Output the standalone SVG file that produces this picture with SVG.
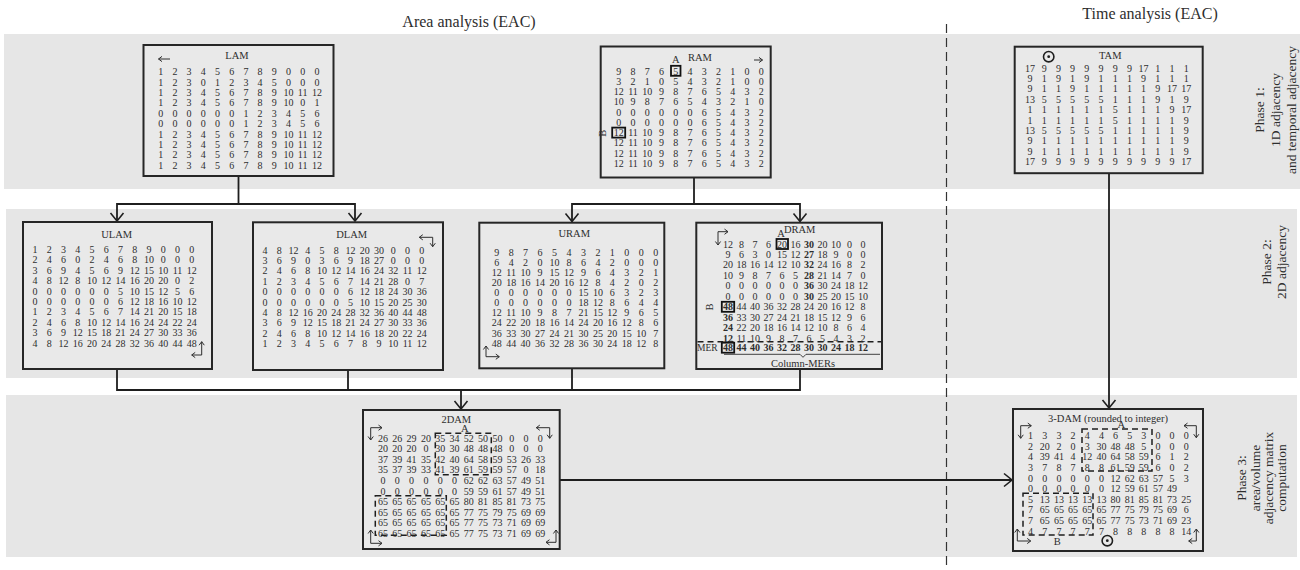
<svg xmlns="http://www.w3.org/2000/svg" width="1300" height="570" viewBox="0 0 1300 570">
<style>
.band{fill:#e6e6e6}
.box{fill:#e9e9e9;stroke:#262626;stroke-width:2}
text{font-family:"Liberation Serif","Times New Roman",serif;fill:#2e2e2e}
.m{font-size:10px;text-anchor:middle}
.ttl{font-size:10.5px;text-anchor:middle}
.b{font-weight:bold}
.con{fill:none;stroke:#1e1e1e;stroke-width:1.8}
.ca{fill:none;stroke:#2e2e2e;stroke-width:1}
.dash{fill:none;stroke:#1e1e1e;stroke-width:1.5;stroke-dasharray:6 4}
.hl{fill:none;stroke:#111;stroke-width:1.8}
.phase{font-size:13.5px;text-anchor:middle}
.hdr{font-size:16px;text-anchor:middle}
.sym{fill:none;stroke:#1e1e1e;stroke-width:1.6}
</style>
<defs>
<marker id="ah" viewBox="-10 -8 12 16" refX="0" refY="0" markerWidth="12" markerHeight="16" markerUnits="userSpaceOnUse" orient="auto-start-reverse">
<path d="M-8,-6.5 L0,0 L-8,6.5" fill="none" stroke="#1e1e1e" stroke-width="1.6"/>
</marker>
<marker id="sa" viewBox="-5 -4 6 8" refX="0" refY="0" markerWidth="6" markerHeight="8" markerUnits="userSpaceOnUse" orient="auto-start-reverse">
<path d="M-3.5,-2.6 L0,0 L-3.5,2.6" fill="none" stroke="#2e2e2e" stroke-width="1"/>
</marker>
</defs>

<!-- phase bands -->
<rect class="band" x="4" y="34" width="1296" height="155"/>
<rect class="band" x="6" y="209" width="1291" height="169"/>
<rect class="band" x="6" y="395" width="1291" height="162"/>

<!-- column headers and separator -->
<text class="hdr" x="469" y="27">Area analysis (EAC)</text>
<text class="hdr" x="1150" y="19">Time analysis (EAC)</text>
<line x1="946.5" y1="24" x2="946.5" y2="570" stroke="#333" stroke-width="1.2" stroke-dasharray="9 5"/>

<!-- phase labels -->
<g id="phase1" class="phase">
<text transform="translate(1263.5,110) rotate(-90)">Phase 1:</text>
<text transform="translate(1280,110) rotate(-90)">1D adjacency</text>
<text transform="translate(1295.5,110) rotate(-90)">and temporal adjacency</text>
</g>
<g id="phase2" class="phase">
<text transform="translate(1271,262) rotate(-90)">Phase 2:</text>
<text transform="translate(1286,262) rotate(-90)">2D adjacency</text>
</g>
<g id="phase3" class="phase">
<text transform="translate(1246,478) rotate(-90)">Phase 3:</text>
<text transform="translate(1259.5,478) rotate(-90)">area/volume</text>
<text transform="translate(1272.5,478) rotate(-90)">adjacency matrix</text>
<text transform="translate(1285.5,478) rotate(-90)">computation</text>
</g>

<!-- connectors -->
<g id="connectors">
<path class="con" d="M238.5,176 V204"/>
<path class="con" d="M117,221 V204 H355 V221" marker-start="url(#ah)" marker-end="url(#ah)"/>
<path class="con" d="M694,177.5 V204"/>
<path class="con" d="M572,221.5 V204 H800 V221.5" marker-start="url(#ah)" marker-end="url(#ah)"/>
<path class="con" d="M117,369 V390 H800 V369"/>
<path class="con" d="M348,370 V390"/>
<path class="con" d="M572,368.3 V390"/>
<path class="con" d="M461,390 V409" marker-end="url(#ah)"/>
<path class="con" d="M1109,173 V408" marker-end="url(#ah)"/>
<path class="con" d="M559.7,480 H1012" marker-end="url(#ah)"/>
</g>

<!-- LAM -->
<g id="lam">
<rect class="box" x="143.5" y="45" width="190" height="131"/>
<text class="ttl" x="237" y="59">LAM</text>
<path class="ca" d="M170,59 H158.5" marker-end="url(#sa)"/>
<g class="m" transform="translate(160.7,75.2)">
<text y="0"><tspan x="0">1</tspan><tspan x="14.2">2</tspan><tspan x="28.4">3</tspan><tspan x="42.6">4</tspan><tspan x="56.8">5</tspan><tspan x="71">6</tspan><tspan x="85.2">7</tspan><tspan x="99.4">8</tspan><tspan x="113.6">9</tspan><tspan x="127.8">0</tspan><tspan x="142">0</tspan><tspan x="156.2">0</tspan></text>
<text y="10.4"><tspan x="0">1</tspan><tspan x="14.2">2</tspan><tspan x="28.4">3</tspan><tspan x="42.6">0</tspan><tspan x="56.8">1</tspan><tspan x="71">2</tspan><tspan x="85.2">3</tspan><tspan x="99.4">4</tspan><tspan x="113.6">5</tspan><tspan x="127.8">0</tspan><tspan x="142">0</tspan><tspan x="156.2">0</tspan></text>
<text y="20.8"><tspan x="0">1</tspan><tspan x="14.2">2</tspan><tspan x="28.4">3</tspan><tspan x="42.6">4</tspan><tspan x="56.8">5</tspan><tspan x="71">6</tspan><tspan x="85.2">7</tspan><tspan x="99.4">8</tspan><tspan x="113.6">9</tspan><tspan x="127.8">10</tspan><tspan x="142">11</tspan><tspan x="156.2">12</tspan></text>
<text y="31.2"><tspan x="0">1</tspan><tspan x="14.2">2</tspan><tspan x="28.4">3</tspan><tspan x="42.6">4</tspan><tspan x="56.8">5</tspan><tspan x="71">6</tspan><tspan x="85.2">7</tspan><tspan x="99.4">8</tspan><tspan x="113.6">9</tspan><tspan x="127.8">10</tspan><tspan x="142">0</tspan><tspan x="156.2">1</tspan></text>
<text y="41.6"><tspan x="0">0</tspan><tspan x="14.2">0</tspan><tspan x="28.4">0</tspan><tspan x="42.6">0</tspan><tspan x="56.8">0</tspan><tspan x="71">0</tspan><tspan x="85.2">1</tspan><tspan x="99.4">2</tspan><tspan x="113.6">3</tspan><tspan x="127.8">4</tspan><tspan x="142">5</tspan><tspan x="156.2">6</tspan></text>
<text y="52"><tspan x="0">0</tspan><tspan x="14.2">0</tspan><tspan x="28.4">0</tspan><tspan x="42.6">0</tspan><tspan x="56.8">0</tspan><tspan x="71">0</tspan><tspan x="85.2">1</tspan><tspan x="99.4">2</tspan><tspan x="113.6">3</tspan><tspan x="127.8">4</tspan><tspan x="142">5</tspan><tspan x="156.2">6</tspan></text>
<text y="62.4"><tspan x="0">1</tspan><tspan x="14.2">2</tspan><tspan x="28.4">3</tspan><tspan x="42.6">4</tspan><tspan x="56.8">5</tspan><tspan x="71">6</tspan><tspan x="85.2">7</tspan><tspan x="99.4">8</tspan><tspan x="113.6">9</tspan><tspan x="127.8">10</tspan><tspan x="142">11</tspan><tspan x="156.2">12</tspan></text>
<text y="72.8"><tspan x="0">1</tspan><tspan x="14.2">2</tspan><tspan x="28.4">3</tspan><tspan x="42.6">4</tspan><tspan x="56.8">5</tspan><tspan x="71">6</tspan><tspan x="85.2">7</tspan><tspan x="99.4">8</tspan><tspan x="113.6">9</tspan><tspan x="127.8">10</tspan><tspan x="142">11</tspan><tspan x="156.2">12</tspan></text>
<text y="83.2"><tspan x="0">1</tspan><tspan x="14.2">2</tspan><tspan x="28.4">3</tspan><tspan x="42.6">4</tspan><tspan x="56.8">5</tspan><tspan x="71">6</tspan><tspan x="85.2">7</tspan><tspan x="99.4">8</tspan><tspan x="113.6">9</tspan><tspan x="127.8">10</tspan><tspan x="142">11</tspan><tspan x="156.2">12</tspan></text>
<text y="93.6"><tspan x="0">1</tspan><tspan x="14.2">2</tspan><tspan x="28.4">3</tspan><tspan x="42.6">4</tspan><tspan x="56.8">5</tspan><tspan x="71">6</tspan><tspan x="85.2">7</tspan><tspan x="99.4">8</tspan><tspan x="113.6">9</tspan><tspan x="127.8">10</tspan><tspan x="142">11</tspan><tspan x="156.2">12</tspan></text>
</g>
</g>

<!-- RAM -->
<g id="ram">
<rect class="box" x="600.7" y="46.5" width="170" height="131"/>
<text class="ttl" x="700" y="61">RAM</text>
<text class="ttl" x="675.7" y="62.5">A</text>
<path class="ca" d="M754,60 H762.5" marker-end="url(#sa)"/>
<rect class="hl" x="671" y="65.8" width="9.5" height="10"/>
<rect class="hl" x="612.2" y="127.6" width="13" height="10"/>
<text class="ttl" transform="translate(606,133.3) rotate(-90)">B</text>
<g class="m" transform="translate(618.7,74.5)">
<text y="0"><tspan x="0">9</tspan><tspan x="14.3">8</tspan><tspan x="28.5">7</tspan><tspan x="42.8">6</tspan><tspan x="57">5</tspan><tspan x="71.3">4</tspan><tspan x="85.5">3</tspan><tspan x="99.8">2</tspan><tspan x="114">1</tspan><tspan x="128.3">0</tspan><tspan x="142.5">0</tspan></text>
<text y="10.3"><tspan x="0">3</tspan><tspan x="14.3">2</tspan><tspan x="28.5">1</tspan><tspan x="42.8">0</tspan><tspan x="57">5</tspan><tspan x="71.3">4</tspan><tspan x="85.5">3</tspan><tspan x="99.8">2</tspan><tspan x="114">1</tspan><tspan x="128.3">0</tspan><tspan x="142.5">0</tspan></text>
<text y="20.5"><tspan x="0">12</tspan><tspan x="14.3">11</tspan><tspan x="28.5">10</tspan><tspan x="42.8">9</tspan><tspan x="57">8</tspan><tspan x="71.3">7</tspan><tspan x="85.5">6</tspan><tspan x="99.8">5</tspan><tspan x="114">4</tspan><tspan x="128.3">3</tspan><tspan x="142.5">2</tspan></text>
<text y="30.8"><tspan x="0">10</tspan><tspan x="14.3">9</tspan><tspan x="28.5">8</tspan><tspan x="42.8">7</tspan><tspan x="57">6</tspan><tspan x="71.3">5</tspan><tspan x="85.5">4</tspan><tspan x="99.8">3</tspan><tspan x="114">2</tspan><tspan x="128.3">1</tspan><tspan x="142.5">0</tspan></text>
<text y="41"><tspan x="0">0</tspan><tspan x="14.3">0</tspan><tspan x="28.5">0</tspan><tspan x="42.8">0</tspan><tspan x="57">0</tspan><tspan x="71.3">0</tspan><tspan x="85.5">6</tspan><tspan x="99.8">5</tspan><tspan x="114">4</tspan><tspan x="128.3">3</tspan><tspan x="142.5">2</tspan></text>
<text y="51.3"><tspan x="0">0</tspan><tspan x="14.3">0</tspan><tspan x="28.5">0</tspan><tspan x="42.8">0</tspan><tspan x="57">0</tspan><tspan x="71.3">0</tspan><tspan x="85.5">6</tspan><tspan x="99.8">5</tspan><tspan x="114">4</tspan><tspan x="128.3">3</tspan><tspan x="142.5">2</tspan></text>
<text y="61.6"><tspan x="0">12</tspan><tspan x="14.3">11</tspan><tspan x="28.5">10</tspan><tspan x="42.8">9</tspan><tspan x="57">8</tspan><tspan x="71.3">7</tspan><tspan x="85.5">6</tspan><tspan x="99.8">5</tspan><tspan x="114">4</tspan><tspan x="128.3">3</tspan><tspan x="142.5">2</tspan></text>
<text y="71.8"><tspan x="0">12</tspan><tspan x="14.3">11</tspan><tspan x="28.5">10</tspan><tspan x="42.8">9</tspan><tspan x="57">8</tspan><tspan x="71.3">7</tspan><tspan x="85.5">6</tspan><tspan x="99.8">5</tspan><tspan x="114">4</tspan><tspan x="128.3">3</tspan><tspan x="142.5">2</tspan></text>
<text y="82.1"><tspan x="0">12</tspan><tspan x="14.3">11</tspan><tspan x="28.5">10</tspan><tspan x="42.8">9</tspan><tspan x="57">8</tspan><tspan x="71.3">7</tspan><tspan x="85.5">6</tspan><tspan x="99.8">5</tspan><tspan x="114">4</tspan><tspan x="128.3">3</tspan><tspan x="142.5">2</tspan></text>
<text y="92.3"><tspan x="0">12</tspan><tspan x="14.3">11</tspan><tspan x="28.5">10</tspan><tspan x="42.8">9</tspan><tspan x="57">8</tspan><tspan x="71.3">7</tspan><tspan x="85.5">6</tspan><tspan x="99.8">5</tspan><tspan x="114">4</tspan><tspan x="128.3">3</tspan><tspan x="142.5">2</tspan></text>
</g>
</g>

<!-- TAM -->
<g id="tam">
<rect class="box" x="1014.7" y="46.7" width="188" height="126.5"/>
<text class="ttl" x="1110.3" y="58.5">TAM</text>
<circle class="sym" cx="1048.7" cy="56.7" r="5.2"/>
<circle cx="1048.7" cy="56.7" r="1.4" fill="#1e1e1e"/>
<g class="m" transform="translate(1030,71.8)">
<text y="0"><tspan x="0">17</tspan><tspan x="14.2">9</tspan><tspan x="28.4">9</tspan><tspan x="42.6">9</tspan><tspan x="56.8">9</tspan><tspan x="71">9</tspan><tspan x="85.2">9</tspan><tspan x="99.4">9</tspan><tspan x="113.6">17</tspan><tspan x="127.8">1</tspan><tspan x="142">1</tspan><tspan x="156.2">1</tspan></text>
<text y="10.4"><tspan x="0">9</tspan><tspan x="14.2">1</tspan><tspan x="28.4">9</tspan><tspan x="42.6">1</tspan><tspan x="56.8">9</tspan><tspan x="71">1</tspan><tspan x="85.2">1</tspan><tspan x="99.4">1</tspan><tspan x="113.6">9</tspan><tspan x="127.8">1</tspan><tspan x="142">1</tspan><tspan x="156.2">1</tspan></text>
<text y="20.7"><tspan x="0">9</tspan><tspan x="14.2">1</tspan><tspan x="28.4">1</tspan><tspan x="42.6">9</tspan><tspan x="56.8">1</tspan><tspan x="71">1</tspan><tspan x="85.2">1</tspan><tspan x="99.4">1</tspan><tspan x="113.6">1</tspan><tspan x="127.8">9</tspan><tspan x="142">17</tspan><tspan x="156.2">17</tspan></text>
<text y="31.1"><tspan x="0">13</tspan><tspan x="14.2">5</tspan><tspan x="28.4">5</tspan><tspan x="42.6">5</tspan><tspan x="56.8">5</tspan><tspan x="71">5</tspan><tspan x="85.2">1</tspan><tspan x="99.4">1</tspan><tspan x="113.6">1</tspan><tspan x="127.8">9</tspan><tspan x="142">1</tspan><tspan x="156.2">9</tspan></text>
<text y="41.5"><tspan x="0">1</tspan><tspan x="14.2">1</tspan><tspan x="28.4">1</tspan><tspan x="42.6">1</tspan><tspan x="56.8">1</tspan><tspan x="71">1</tspan><tspan x="85.2">5</tspan><tspan x="99.4">1</tspan><tspan x="113.6">1</tspan><tspan x="127.8">1</tspan><tspan x="142">9</tspan><tspan x="156.2">17</tspan></text>
<text y="51.9"><tspan x="0">1</tspan><tspan x="14.2">1</tspan><tspan x="28.4">1</tspan><tspan x="42.6">1</tspan><tspan x="56.8">1</tspan><tspan x="71">1</tspan><tspan x="85.2">5</tspan><tspan x="99.4">1</tspan><tspan x="113.6">1</tspan><tspan x="127.8">1</tspan><tspan x="142">1</tspan><tspan x="156.2">9</tspan></text>
<text y="62.2"><tspan x="0">13</tspan><tspan x="14.2">5</tspan><tspan x="28.4">5</tspan><tspan x="42.6">5</tspan><tspan x="56.8">5</tspan><tspan x="71">5</tspan><tspan x="85.2">1</tspan><tspan x="99.4">1</tspan><tspan x="113.6">1</tspan><tspan x="127.8">1</tspan><tspan x="142">1</tspan><tspan x="156.2">9</tspan></text>
<text y="72.6"><tspan x="0">9</tspan><tspan x="14.2">1</tspan><tspan x="28.4">1</tspan><tspan x="42.6">1</tspan><tspan x="56.8">1</tspan><tspan x="71">1</tspan><tspan x="85.2">1</tspan><tspan x="99.4">1</tspan><tspan x="113.6">1</tspan><tspan x="127.8">1</tspan><tspan x="142">1</tspan><tspan x="156.2">9</tspan></text>
<text y="83"><tspan x="0">9</tspan><tspan x="14.2">1</tspan><tspan x="28.4">1</tspan><tspan x="42.6">1</tspan><tspan x="56.8">1</tspan><tspan x="71">1</tspan><tspan x="85.2">1</tspan><tspan x="99.4">1</tspan><tspan x="113.6">1</tspan><tspan x="127.8">1</tspan><tspan x="142">1</tspan><tspan x="156.2">9</tspan></text>
<text y="93.3"><tspan x="0">17</tspan><tspan x="14.2">9</tspan><tspan x="28.4">9</tspan><tspan x="42.6">9</tspan><tspan x="56.8">9</tspan><tspan x="71">9</tspan><tspan x="85.2">9</tspan><tspan x="99.4">9</tspan><tspan x="113.6">9</tspan><tspan x="127.8">9</tspan><tspan x="142">9</tspan><tspan x="156.2">17</tspan></text>
</g>
</g>

<!-- ULAM -->
<g id="ulam">
<rect class="box" x="23" y="222" width="189" height="147"/>
<text class="ttl" x="116.7" y="237.7">ULAM</text>
<path class="ca" d="M201.7,341.7 V355 H191.7" marker-start="url(#sa)" marker-end="url(#sa)"/>
<g class="m" transform="translate(35,252.8)">
<text y="0"><tspan x="0">1</tspan><tspan x="14.3">2</tspan><tspan x="28.5">3</tspan><tspan x="42.8">4</tspan><tspan x="57">5</tspan><tspan x="71.3">6</tspan><tspan x="85.5">7</tspan><tspan x="99.8">8</tspan><tspan x="114">9</tspan><tspan x="128.3">0</tspan><tspan x="142.5">0</tspan><tspan x="156.8">0</tspan></text>
<text y="10.4"><tspan x="0">2</tspan><tspan x="14.3">4</tspan><tspan x="28.5">6</tspan><tspan x="42.8">0</tspan><tspan x="57">2</tspan><tspan x="71.3">4</tspan><tspan x="85.5">6</tspan><tspan x="99.8">8</tspan><tspan x="114">10</tspan><tspan x="128.3">0</tspan><tspan x="142.5">0</tspan><tspan x="156.8">0</tspan></text>
<text y="20.9"><tspan x="0">3</tspan><tspan x="14.3">6</tspan><tspan x="28.5">9</tspan><tspan x="42.8">4</tspan><tspan x="57">5</tspan><tspan x="71.3">6</tspan><tspan x="85.5">9</tspan><tspan x="99.8">12</tspan><tspan x="114">15</tspan><tspan x="128.3">10</tspan><tspan x="142.5">11</tspan><tspan x="156.8">12</tspan></text>
<text y="31.3"><tspan x="0">4</tspan><tspan x="14.3">8</tspan><tspan x="28.5">12</tspan><tspan x="42.8">8</tspan><tspan x="57">10</tspan><tspan x="71.3">12</tspan><tspan x="85.5">14</tspan><tspan x="99.8">16</tspan><tspan x="114">20</tspan><tspan x="128.3">20</tspan><tspan x="142.5">0</tspan><tspan x="156.8">2</tspan></text>
<text y="41.8"><tspan x="0">0</tspan><tspan x="14.3">0</tspan><tspan x="28.5">0</tspan><tspan x="42.8">0</tspan><tspan x="57">0</tspan><tspan x="71.3">0</tspan><tspan x="85.5">5</tspan><tspan x="99.8">10</tspan><tspan x="114">15</tspan><tspan x="128.3">12</tspan><tspan x="142.5">5</tspan><tspan x="156.8">6</tspan></text>
<text y="52.2"><tspan x="0">0</tspan><tspan x="14.3">0</tspan><tspan x="28.5">0</tspan><tspan x="42.8">0</tspan><tspan x="57">0</tspan><tspan x="71.3">0</tspan><tspan x="85.5">6</tspan><tspan x="99.8">12</tspan><tspan x="114">18</tspan><tspan x="128.3">16</tspan><tspan x="142.5">10</tspan><tspan x="156.8">12</tspan></text>
<text y="62.6"><tspan x="0">1</tspan><tspan x="14.3">2</tspan><tspan x="28.5">3</tspan><tspan x="42.8">4</tspan><tspan x="57">5</tspan><tspan x="71.3">6</tspan><tspan x="85.5">7</tspan><tspan x="99.8">14</tspan><tspan x="114">21</tspan><tspan x="128.3">20</tspan><tspan x="142.5">15</tspan><tspan x="156.8">18</tspan></text>
<text y="73.1"><tspan x="0">2</tspan><tspan x="14.3">4</tspan><tspan x="28.5">6</tspan><tspan x="42.8">8</tspan><tspan x="57">10</tspan><tspan x="71.3">12</tspan><tspan x="85.5">14</tspan><tspan x="99.8">16</tspan><tspan x="114">24</tspan><tspan x="128.3">24</tspan><tspan x="142.5">22</tspan><tspan x="156.8">24</tspan></text>
<text y="83.5"><tspan x="0">3</tspan><tspan x="14.3">6</tspan><tspan x="28.5">9</tspan><tspan x="42.8">12</tspan><tspan x="57">15</tspan><tspan x="71.3">18</tspan><tspan x="85.5">21</tspan><tspan x="99.8">24</tspan><tspan x="114">27</tspan><tspan x="128.3">30</tspan><tspan x="142.5">33</tspan><tspan x="156.8">36</tspan></text>
<text y="94"><tspan x="0">4</tspan><tspan x="14.3">8</tspan><tspan x="28.5">12</tspan><tspan x="42.8">16</tspan><tspan x="57">20</tspan><tspan x="71.3">24</tspan><tspan x="85.5">28</tspan><tspan x="99.8">32</tspan><tspan x="114">36</tspan><tspan x="128.3">40</tspan><tspan x="142.5">44</tspan><tspan x="156.8">48</tspan></text>
</g>
</g>

<!-- DLAM -->
<g id="dlam">
<rect class="box" x="253" y="222.3" width="190" height="147.7"/>
<text class="ttl" x="351.7" y="237.7">DLAM</text>
<path class="ca" d="M419.3,237.3 H432.7 V246.7" marker-start="url(#sa)" marker-end="url(#sa)"/>
<g class="m" transform="translate(265,253.5)">
<text y="0"><tspan x="0">4</tspan><tspan x="14.3">8</tspan><tspan x="28.5">12</tspan><tspan x="42.8">4</tspan><tspan x="57">5</tspan><tspan x="71.3">8</tspan><tspan x="85.5">12</tspan><tspan x="99.8">20</tspan><tspan x="114">30</tspan><tspan x="128.3">0</tspan><tspan x="142.5">0</tspan><tspan x="156.8">0</tspan></text>
<text y="10.4"><tspan x="0">3</tspan><tspan x="14.3">6</tspan><tspan x="28.5">9</tspan><tspan x="42.8">0</tspan><tspan x="57">3</tspan><tspan x="71.3">6</tspan><tspan x="85.5">9</tspan><tspan x="99.8">18</tspan><tspan x="114">27</tspan><tspan x="128.3">0</tspan><tspan x="142.5">0</tspan><tspan x="156.8">0</tspan></text>
<text y="20.8"><tspan x="0">2</tspan><tspan x="14.3">4</tspan><tspan x="28.5">6</tspan><tspan x="42.8">8</tspan><tspan x="57">10</tspan><tspan x="71.3">12</tspan><tspan x="85.5">14</tspan><tspan x="99.8">16</tspan><tspan x="114">24</tspan><tspan x="128.3">32</tspan><tspan x="142.5">11</tspan><tspan x="156.8">12</tspan></text>
<text y="31.2"><tspan x="0">1</tspan><tspan x="14.3">2</tspan><tspan x="28.5">3</tspan><tspan x="42.8">4</tspan><tspan x="57">5</tspan><tspan x="71.3">6</tspan><tspan x="85.5">7</tspan><tspan x="99.8">14</tspan><tspan x="114">21</tspan><tspan x="128.3">28</tspan><tspan x="142.5">0</tspan><tspan x="156.8">7</tspan></text>
<text y="41.6"><tspan x="0">0</tspan><tspan x="14.3">0</tspan><tspan x="28.5">0</tspan><tspan x="42.8">0</tspan><tspan x="57">0</tspan><tspan x="71.3">0</tspan><tspan x="85.5">6</tspan><tspan x="99.8">12</tspan><tspan x="114">18</tspan><tspan x="128.3">24</tspan><tspan x="142.5">30</tspan><tspan x="156.8">36</tspan></text>
<text y="52"><tspan x="0">0</tspan><tspan x="14.3">0</tspan><tspan x="28.5">0</tspan><tspan x="42.8">0</tspan><tspan x="57">0</tspan><tspan x="71.3">0</tspan><tspan x="85.5">5</tspan><tspan x="99.8">10</tspan><tspan x="114">15</tspan><tspan x="128.3">20</tspan><tspan x="142.5">25</tspan><tspan x="156.8">30</tspan></text>
<text y="62.4"><tspan x="0">4</tspan><tspan x="14.3">8</tspan><tspan x="28.5">12</tspan><tspan x="42.8">16</tspan><tspan x="57">20</tspan><tspan x="71.3">24</tspan><tspan x="85.5">28</tspan><tspan x="99.8">32</tspan><tspan x="114">36</tspan><tspan x="128.3">40</tspan><tspan x="142.5">44</tspan><tspan x="156.8">48</tspan></text>
<text y="72.8"><tspan x="0">3</tspan><tspan x="14.3">6</tspan><tspan x="28.5">9</tspan><tspan x="42.8">12</tspan><tspan x="57">15</tspan><tspan x="71.3">18</tspan><tspan x="85.5">21</tspan><tspan x="99.8">24</tspan><tspan x="114">27</tspan><tspan x="128.3">30</tspan><tspan x="142.5">33</tspan><tspan x="156.8">36</tspan></text>
<text y="83.2"><tspan x="0">2</tspan><tspan x="14.3">4</tspan><tspan x="28.5">6</tspan><tspan x="42.8">8</tspan><tspan x="57">10</tspan><tspan x="71.3">12</tspan><tspan x="85.5">14</tspan><tspan x="99.8">16</tspan><tspan x="114">18</tspan><tspan x="128.3">20</tspan><tspan x="142.5">22</tspan><tspan x="156.8">24</tspan></text>
<text y="93.6"><tspan x="0">1</tspan><tspan x="14.3">2</tspan><tspan x="28.5">3</tspan><tspan x="42.8">4</tspan><tspan x="57">5</tspan><tspan x="71.3">6</tspan><tspan x="85.5">7</tspan><tspan x="99.8">8</tspan><tspan x="114">9</tspan><tspan x="128.3">10</tspan><tspan x="142.5">11</tspan><tspan x="156.8">12</tspan></text>
</g>
</g>

<!-- URAM -->
<g id="uram">
<rect class="box" x="479.3" y="222.7" width="185" height="145.6"/>
<text class="ttl" x="574.3" y="236.7">URAM</text>
<path class="ca" d="M486,346 V356.7 H499.3" marker-start="url(#sa)" marker-end="url(#sa)"/>
<g class="m" transform="translate(496.7,255.8)">
<text y="0"><tspan x="0">9</tspan><tspan x="14.5">8</tspan><tspan x="28.9">7</tspan><tspan x="43.4">6</tspan><tspan x="57.8">5</tspan><tspan x="72.3">4</tspan><tspan x="86.7">3</tspan><tspan x="101.2">2</tspan><tspan x="115.6">1</tspan><tspan x="130.1">0</tspan><tspan x="144.5">0</tspan><tspan x="159">0</tspan></text>
<text y="10.1"><tspan x="0">6</tspan><tspan x="14.5">4</tspan><tspan x="28.9">2</tspan><tspan x="43.4">0</tspan><tspan x="57.8">10</tspan><tspan x="72.3">8</tspan><tspan x="86.7">6</tspan><tspan x="101.2">4</tspan><tspan x="115.6">2</tspan><tspan x="130.1">0</tspan><tspan x="144.5">0</tspan><tspan x="159">0</tspan></text>
<text y="20.2"><tspan x="0">12</tspan><tspan x="14.5">11</tspan><tspan x="28.9">10</tspan><tspan x="43.4">9</tspan><tspan x="57.8">15</tspan><tspan x="72.3">12</tspan><tspan x="86.7">9</tspan><tspan x="101.2">6</tspan><tspan x="115.6">4</tspan><tspan x="130.1">3</tspan><tspan x="144.5">2</tspan><tspan x="159">1</tspan></text>
<text y="30.3"><tspan x="0">20</tspan><tspan x="14.5">18</tspan><tspan x="28.9">16</tspan><tspan x="43.4">14</tspan><tspan x="57.8">20</tspan><tspan x="72.3">16</tspan><tspan x="86.7">12</tspan><tspan x="101.2">8</tspan><tspan x="115.6">4</tspan><tspan x="130.1">2</tspan><tspan x="144.5">0</tspan><tspan x="159">2</tspan></text>
<text y="40.4"><tspan x="0">0</tspan><tspan x="14.5">0</tspan><tspan x="28.9">0</tspan><tspan x="43.4">0</tspan><tspan x="57.8">0</tspan><tspan x="72.3">0</tspan><tspan x="86.7">15</tspan><tspan x="101.2">10</tspan><tspan x="115.6">6</tspan><tspan x="130.1">3</tspan><tspan x="144.5">2</tspan><tspan x="159">3</tspan></text>
<text y="50.5"><tspan x="0">0</tspan><tspan x="14.5">0</tspan><tspan x="28.9">0</tspan><tspan x="43.4">0</tspan><tspan x="57.8">0</tspan><tspan x="72.3">0</tspan><tspan x="86.7">18</tspan><tspan x="101.2">12</tspan><tspan x="115.6">8</tspan><tspan x="130.1">6</tspan><tspan x="144.5">4</tspan><tspan x="159">4</tspan></text>
<text y="60.6"><tspan x="0">12</tspan><tspan x="14.5">11</tspan><tspan x="28.9">10</tspan><tspan x="43.4">9</tspan><tspan x="57.8">8</tspan><tspan x="72.3">7</tspan><tspan x="86.7">21</tspan><tspan x="101.2">15</tspan><tspan x="115.6">12</tspan><tspan x="130.1">9</tspan><tspan x="144.5">6</tspan><tspan x="159">5</tspan></text>
<text y="70.7"><tspan x="0">24</tspan><tspan x="14.5">22</tspan><tspan x="28.9">20</tspan><tspan x="43.4">18</tspan><tspan x="57.8">16</tspan><tspan x="72.3">14</tspan><tspan x="86.7">24</tspan><tspan x="101.2">20</tspan><tspan x="115.6">16</tspan><tspan x="130.1">12</tspan><tspan x="144.5">8</tspan><tspan x="159">6</tspan></text>
<text y="80.8"><tspan x="0">36</tspan><tspan x="14.5">33</tspan><tspan x="28.9">30</tspan><tspan x="43.4">27</tspan><tspan x="57.8">24</tspan><tspan x="72.3">21</tspan><tspan x="86.7">30</tspan><tspan x="101.2">25</tspan><tspan x="115.6">20</tspan><tspan x="130.1">15</tspan><tspan x="144.5">10</tspan><tspan x="159">7</tspan></text>
<text y="90.9"><tspan x="0">48</tspan><tspan x="14.5">44</tspan><tspan x="28.9">40</tspan><tspan x="43.4">36</tspan><tspan x="57.8">32</tspan><tspan x="72.3">28</tspan><tspan x="86.7">36</tspan><tspan x="101.2">30</tspan><tspan x="115.6">24</tspan><tspan x="130.1">18</tspan><tspan x="144.5">12</tspan><tspan x="159">8</tspan></text>
</g>
</g>

<!-- DRAM with column maximum row -->
<g id="dram">
<rect class="box" x="696.3" y="222.7" width="185.7" height="146.3"/>
<text class="ttl" x="799.7" y="232.7">DRAM</text>
<text class="ttl" x="781" y="236.7">A</text>
<path class="ca" d="M718,245 V231.7 H728" marker-start="url(#sa)" marker-end="url(#sa)"/>
<rect class="hl" x="776.5" y="239" width="11.5" height="10"/>
<rect class="hl" x="721.8" y="301.8" width="12.4" height="10"/>
<rect class="hl" x="721.8" y="342.7" width="12.4" height="10"/>
<text class="ttl" transform="translate(713,307) rotate(-90)">B</text>
<line class="dash" x1="697.5" y1="341.8" x2="881" y2="341.8" stroke-width="1.3"/>
<text x="697" y="351.2" font-size="9.5px">MER</text>
<path d="M724,354.3 H800 L803,357.3 L806,354.3 H880" fill="none" stroke="#2e2e2e" stroke-width="0.9"/>
<text class="ttl" x="803" y="366.5">Column-MERs</text>
<g class="m" transform="translate(728,247.5)">
<text y="0"><tspan x="0">12</tspan><tspan x="13.5">8</tspan><tspan x="27">7</tspan><tspan x="40.5">6</tspan><tspan x="54">20</tspan><tspan x="67.5">16</tspan><tspan x="81" class="b">30</tspan><tspan x="94.5">20</tspan><tspan x="108">10</tspan><tspan x="121.5">0</tspan><tspan x="135">0</tspan></text>
<text y="10.5"><tspan x="0">9</tspan><tspan x="13.5">6</tspan><tspan x="27">3</tspan><tspan x="40.5">0</tspan><tspan x="54">15</tspan><tspan x="67.5">12</tspan><tspan x="81" class="b">27</tspan><tspan x="94.5">18</tspan><tspan x="108">9</tspan><tspan x="121.5">0</tspan><tspan x="135">0</tspan></text>
<text y="20.9"><tspan x="0">20</tspan><tspan x="13.5">18</tspan><tspan x="27">16</tspan><tspan x="40.5">14</tspan><tspan x="54">12</tspan><tspan x="67.5">10</tspan><tspan x="81" class="b">32</tspan><tspan x="94.5">24</tspan><tspan x="108">16</tspan><tspan x="121.5">8</tspan><tspan x="135">2</tspan></text>
<text y="31.4"><tspan x="0">10</tspan><tspan x="13.5">9</tspan><tspan x="27">8</tspan><tspan x="40.5">7</tspan><tspan x="54">6</tspan><tspan x="67.5">5</tspan><tspan x="81" class="b">28</tspan><tspan x="94.5">21</tspan><tspan x="108">14</tspan><tspan x="121.5">7</tspan><tspan x="135">0</tspan></text>
<text y="41.9"><tspan x="0">0</tspan><tspan x="13.5">0</tspan><tspan x="27">0</tspan><tspan x="40.5">0</tspan><tspan x="54">0</tspan><tspan x="67.5">0</tspan><tspan x="81" class="b">36</tspan><tspan x="94.5">30</tspan><tspan x="108">24</tspan><tspan x="121.5">18</tspan><tspan x="135">12</tspan></text>
<text y="52.4"><tspan x="0">0</tspan><tspan x="13.5">0</tspan><tspan x="27">0</tspan><tspan x="40.5">0</tspan><tspan x="54">0</tspan><tspan x="67.5">0</tspan><tspan x="81" class="b">30</tspan><tspan x="94.5">25</tspan><tspan x="108">20</tspan><tspan x="121.5">15</tspan><tspan x="135">10</tspan></text>
<text y="62.8"><tspan x="0" class="b">48</tspan><tspan x="13.5">44</tspan><tspan x="27">40</tspan><tspan x="40.5">36</tspan><tspan x="54">32</tspan><tspan x="67.5">28</tspan><tspan x="81">24</tspan><tspan x="94.5">20</tspan><tspan x="108">16</tspan><tspan x="121.5">12</tspan><tspan x="135">8</tspan></text>
<text y="73.3"><tspan x="0" class="b">36</tspan><tspan x="13.5">33</tspan><tspan x="27">30</tspan><tspan x="40.5">27</tspan><tspan x="54">24</tspan><tspan x="67.5">21</tspan><tspan x="81">18</tspan><tspan x="94.5">15</tspan><tspan x="108">12</tspan><tspan x="121.5">9</tspan><tspan x="135">6</tspan></text>
<text y="83.8"><tspan x="0" class="b">24</tspan><tspan x="13.5">22</tspan><tspan x="27">20</tspan><tspan x="40.5">18</tspan><tspan x="54">16</tspan><tspan x="67.5">14</tspan><tspan x="81">12</tspan><tspan x="94.5">10</tspan><tspan x="108">8</tspan><tspan x="121.5">6</tspan><tspan x="135">4</tspan></text>
<text y="94.2"><tspan x="0" class="b">12</tspan><tspan x="13.5">11</tspan><tspan x="27">10</tspan><tspan x="40.5">9</tspan><tspan x="54">8</tspan><tspan x="67.5">7</tspan><tspan x="81">6</tspan><tspan x="94.5">5</tspan><tspan x="108">4</tspan><tspan x="121.5">3</tspan><tspan x="135">2</tspan></text>
<text y="103.7" class="b"><tspan x="0">48</tspan><tspan x="13.5">44</tspan><tspan x="27">40</tspan><tspan x="40.5">36</tspan><tspan x="54">32</tspan><tspan x="67.5">28</tspan><tspan x="81">30</tspan><tspan x="94.5">30</tspan><tspan x="108">24</tspan><tspan x="121.5">18</tspan><tspan x="135">12</tspan></text>
</g>
</g>

<!-- 2DAM -->
<g id="dam2">
<rect class="box" x="363" y="410" width="196.7" height="139"/>
<text class="ttl" x="456.3" y="423.3">2DAM</text>
<text class="ttl" x="464.7" y="431.7">A</text>
<rect class="dash" x="435.3" y="433.3" width="56" height="41.5"/>
<rect class="dash" x="375.3" y="495.7" width="71" height="39.5"/>
<path class="ca" d="M370.7,440 V427.7 H382" marker-start="url(#sa)" marker-end="url(#sa)"/>
<path class="ca" d="M536.3,427.7 H549.7 V438.3" marker-start="url(#sa)" marker-end="url(#sa)"/>
<path class="ca" d="M370.7,530 V543.3 H382" marker-start="url(#sa)" marker-end="url(#sa)"/>
<path class="ca" d="M556,530 V542.3 H546" marker-start="url(#sa)" marker-end="url(#sa)"/>
<g class="m" transform="translate(383,441.8)">
<text y="0"><tspan x="0">26</tspan><tspan x="14.3">26</tspan><tspan x="28.6">29</tspan><tspan x="42.9">20</tspan><tspan x="57.2">35</tspan><tspan x="71.5">34</tspan><tspan x="85.8">52</tspan><tspan x="100.1">50</tspan><tspan x="114.4">50</tspan><tspan x="128.7">0</tspan><tspan x="143">0</tspan><tspan x="157.3">0</tspan></text>
<text y="10.6"><tspan x="0">20</tspan><tspan x="14.3">20</tspan><tspan x="28.6">20</tspan><tspan x="42.9">0</tspan><tspan x="57.2">30</tspan><tspan x="71.5">30</tspan><tspan x="85.8">48</tspan><tspan x="100.1">48</tspan><tspan x="114.4">48</tspan><tspan x="128.7">0</tspan><tspan x="143">0</tspan><tspan x="157.3">0</tspan></text>
<text y="21.1"><tspan x="0">37</tspan><tspan x="14.3">39</tspan><tspan x="28.6">41</tspan><tspan x="42.9">35</tspan><tspan x="57.2">42</tspan><tspan x="71.5">40</tspan><tspan x="85.8">64</tspan><tspan x="100.1">58</tspan><tspan x="114.4">59</tspan><tspan x="128.7">53</tspan><tspan x="143">26</tspan><tspan x="157.3">33</tspan></text>
<text y="31.7"><tspan x="0">35</tspan><tspan x="14.3">37</tspan><tspan x="28.6">39</tspan><tspan x="42.9">33</tspan><tspan x="57.2">41</tspan><tspan x="71.5">39</tspan><tspan x="85.8">61</tspan><tspan x="100.1">59</tspan><tspan x="114.4">59</tspan><tspan x="128.7">57</tspan><tspan x="143">0</tspan><tspan x="157.3">18</tspan></text>
<text y="42.2"><tspan x="0">0</tspan><tspan x="14.3">0</tspan><tspan x="28.6">0</tspan><tspan x="42.9">0</tspan><tspan x="57.2">0</tspan><tspan x="71.5">0</tspan><tspan x="85.8">62</tspan><tspan x="100.1">62</tspan><tspan x="114.4">63</tspan><tspan x="128.7">57</tspan><tspan x="143">49</tspan><tspan x="157.3">51</tspan></text>
<text y="52.8"><tspan x="0">0</tspan><tspan x="14.3">0</tspan><tspan x="28.6">0</tspan><tspan x="42.9">0</tspan><tspan x="57.2">0</tspan><tspan x="71.5">0</tspan><tspan x="85.8">59</tspan><tspan x="100.1">59</tspan><tspan x="114.4">61</tspan><tspan x="128.7">57</tspan><tspan x="143">49</tspan><tspan x="157.3">51</tspan></text>
<text y="63.4"><tspan x="0">65</tspan><tspan x="14.3">65</tspan><tspan x="28.6">65</tspan><tspan x="42.9">65</tspan><tspan x="57.2">65</tspan><tspan x="71.5">65</tspan><tspan x="85.8">80</tspan><tspan x="100.1">81</tspan><tspan x="114.4">85</tspan><tspan x="128.7">81</tspan><tspan x="143">73</tspan><tspan x="157.3">75</tspan></text>
<text y="73.9"><tspan x="0">65</tspan><tspan x="14.3">65</tspan><tspan x="28.6">65</tspan><tspan x="42.9">65</tspan><tspan x="57.2">65</tspan><tspan x="71.5">65</tspan><tspan x="85.8">77</tspan><tspan x="100.1">75</tspan><tspan x="114.4">79</tspan><tspan x="128.7">75</tspan><tspan x="143">69</tspan><tspan x="157.3">69</tspan></text>
<text y="84.5"><tspan x="0">65</tspan><tspan x="14.3">65</tspan><tspan x="28.6">65</tspan><tspan x="42.9">65</tspan><tspan x="57.2">65</tspan><tspan x="71.5">65</tspan><tspan x="85.8">77</tspan><tspan x="100.1">75</tspan><tspan x="114.4">73</tspan><tspan x="128.7">71</tspan><tspan x="143">69</tspan><tspan x="157.3">69</tspan></text>
<text y="95"><tspan x="0">65</tspan><tspan x="14.3">65</tspan><tspan x="28.6">65</tspan><tspan x="42.9">65</tspan><tspan x="57.2">65</tspan><tspan x="71.5">65</tspan><tspan x="85.8">77</tspan><tspan x="100.1">75</tspan><tspan x="114.4">73</tspan><tspan x="128.7">71</tspan><tspan x="143">69</tspan><tspan x="157.3">69</tspan></text>
</g>
</g>

<!-- 3-DAM -->
<g id="dam3">
<rect class="box" x="1013" y="409" width="190" height="142"/>
<text class="ttl" x="1108" y="421.5">3-DAM (rounded to integer)</text>
<text class="ttl" x="1121.3" y="427.7">A</text>
<text class="ttl" x="1057.3" y="545">B</text>
<circle class="sym" cx="1107.3" cy="540.7" r="5.2"/>
<circle cx="1107.3" cy="540.7" r="1.4" fill="#1e1e1e"/>
<rect class="dash" x="1082" y="429" width="70" height="42"/>
<rect class="dash" x="1023" y="493.3" width="70" height="41.7"/>
<path class="ca" d="M1020.7,438.3 V425.7 H1031.3" marker-start="url(#sa)" marker-end="url(#sa)"/>
<path class="ca" d="M1184,425.7 H1196.3 V437.7" marker-start="url(#sa)" marker-end="url(#sa)"/>
<path class="ca" d="M1017.3,529 V541 H1030.7" marker-start="url(#sa)" marker-end="url(#sa)"/>
<path class="ca" d="M1196.3,529 V541 H1188.7" marker-start="url(#sa)" marker-end="url(#sa)"/>
<g class="m" transform="translate(1030.6,439.2)">
<text y="0"><tspan x="0">1</tspan><tspan x="14.2">3</tspan><tspan x="28.3">3</tspan><tspan x="42.5">2</tspan><tspan x="56.6">4</tspan><tspan x="70.8">4</tspan><tspan x="84.9">6</tspan><tspan x="99.1">5</tspan><tspan x="113.2">3</tspan><tspan x="127.4">0</tspan><tspan x="141.5">0</tspan><tspan x="155.7">0</tspan></text>
<text y="10.6"><tspan x="0">2</tspan><tspan x="14.2">20</tspan><tspan x="28.3">2</tspan><tspan x="42.5">0</tspan><tspan x="56.6">3</tspan><tspan x="70.8">30</tspan><tspan x="84.9">48</tspan><tspan x="99.1">48</tspan><tspan x="113.2">5</tspan><tspan x="127.4">0</tspan><tspan x="141.5">0</tspan><tspan x="155.7">0</tspan></text>
<text y="21.2"><tspan x="0">4</tspan><tspan x="14.2">39</tspan><tspan x="28.3">41</tspan><tspan x="42.5">4</tspan><tspan x="56.6">12</tspan><tspan x="70.8">40</tspan><tspan x="84.9">64</tspan><tspan x="99.1">58</tspan><tspan x="113.2">59</tspan><tspan x="127.4">6</tspan><tspan x="141.5">1</tspan><tspan x="155.7">2</tspan></text>
<text y="31.8"><tspan x="0">3</tspan><tspan x="14.2">7</tspan><tspan x="28.3">8</tspan><tspan x="42.5">7</tspan><tspan x="56.6">8</tspan><tspan x="70.8">8</tspan><tspan x="84.9">61</tspan><tspan x="99.1">59</tspan><tspan x="113.2">59</tspan><tspan x="127.4">6</tspan><tspan x="141.5">0</tspan><tspan x="155.7">2</tspan></text>
<text y="42.4"><tspan x="0">0</tspan><tspan x="14.2">0</tspan><tspan x="28.3">0</tspan><tspan x="42.5">0</tspan><tspan x="56.6">0</tspan><tspan x="70.8">0</tspan><tspan x="84.9">12</tspan><tspan x="99.1">62</tspan><tspan x="113.2">63</tspan><tspan x="127.4">57</tspan><tspan x="141.5">5</tspan><tspan x="155.7">3</tspan></text>
<text y="53"><tspan x="0">0</tspan><tspan x="14.2">0</tspan><tspan x="28.3">0</tspan><tspan x="42.5">0</tspan><tspan x="56.6">0</tspan><tspan x="70.8">0</tspan><tspan x="84.9">12</tspan><tspan x="99.1">59</tspan><tspan x="113.2">61</tspan><tspan x="127.4">57</tspan><tspan x="141.5">49</tspan></text>
<text y="63.6"><tspan x="0">5</tspan><tspan x="14.2">13</tspan><tspan x="28.3">13</tspan><tspan x="42.5">13</tspan><tspan x="56.6">13</tspan><tspan x="70.8">13</tspan><tspan x="84.9">80</tspan><tspan x="99.1">81</tspan><tspan x="113.2">85</tspan><tspan x="127.4">81</tspan><tspan x="141.5">73</tspan><tspan x="155.7">25</tspan></text>
<text y="74.2"><tspan x="0">7</tspan><tspan x="14.2">65</tspan><tspan x="28.3">65</tspan><tspan x="42.5">65</tspan><tspan x="56.6">65</tspan><tspan x="70.8">65</tspan><tspan x="84.9">77</tspan><tspan x="99.1">75</tspan><tspan x="113.2">79</tspan><tspan x="127.4">75</tspan><tspan x="141.5">69</tspan><tspan x="155.7">6</tspan></text>
<text y="84.8"><tspan x="0">7</tspan><tspan x="14.2">65</tspan><tspan x="28.3">65</tspan><tspan x="42.5">65</tspan><tspan x="56.6">65</tspan><tspan x="70.8">65</tspan><tspan x="84.9">77</tspan><tspan x="99.1">75</tspan><tspan x="113.2">73</tspan><tspan x="127.4">71</tspan><tspan x="141.5">69</tspan><tspan x="155.7">23</tspan></text>
<text y="95.4"><tspan x="0">4</tspan><tspan x="14.2">7</tspan><tspan x="28.3">7</tspan><tspan x="42.5">7</tspan><tspan x="56.6">7</tspan><tspan x="70.8">7</tspan><tspan x="84.9">8</tspan><tspan x="99.1">8</tspan><tspan x="113.2">8</tspan><tspan x="127.4">8</tspan><tspan x="141.5">8</tspan><tspan x="155.7">14</tspan></text>
</g>
</g>
</svg>
